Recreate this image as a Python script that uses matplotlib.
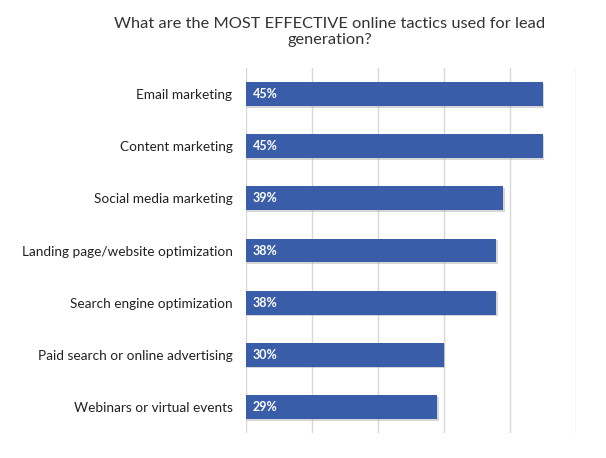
import matplotlib.pyplot as plt
import matplotlib.patheffects as pe

categories = ["Email marketing", "Content marketing", "Social media marketing",
              "Landing page/website optimization", "Search engine optimization",
              "Paid search or online advertising", "Webinars or virtual events"]
values = [45, 45, 39, 38, 38, 30, 29]
title = "What are the MOST EFFECTIVE online tactics used for lead\ngeneration?"

plt.rcParams['font.family'] = ['Lato', 'DejaVu Sans']

fig = plt.figure(figsize=(6.06, 4.58), dpi=100)
ax = fig.add_axes([0.4054, 0.0546, 0.5444, 0.7969])

ypos = list(range(len(categories)))
bars = ax.barh(ypos, values, height=0.46, color="#3A5DAA", zorder=3)
for b in bars:
    b.set_path_effects([pe.SimplePatchShadow(offset=(1.2, -1.2), shadow_rgbFace="#999999", alpha=0.4), pe.Normal()])

for y, v in zip(ypos, values):
    ax.text(1.1, y, f"{v}%", color="white", fontweight="bold", fontsize=9,
            va="center", ha="left", zorder=4)

ax.set_xlim(0, 50)
ax.set_ylim(len(categories) - 0.5, -0.5)
ax.set_xticks([0, 10, 20, 30, 40, 50])
ax.set_xticklabels([])
ax.set_yticks(ypos)
ax.set_yticklabels(categories, fontsize=9.8, color="#222222")
ax.tick_params(axis="both", length=0, pad=9.5)
ax.grid(axis="x", color="#D9D9D9", linewidth=1, zorder=0)
for s in ax.spines.values():
    s.set_visible(False)

fig.text(0.544, 0.93, title, ha="center", va="center", fontsize=11.8,
         color="#333333", linespacing=1.2)

fig.savefig("out.png", dpi=100)
